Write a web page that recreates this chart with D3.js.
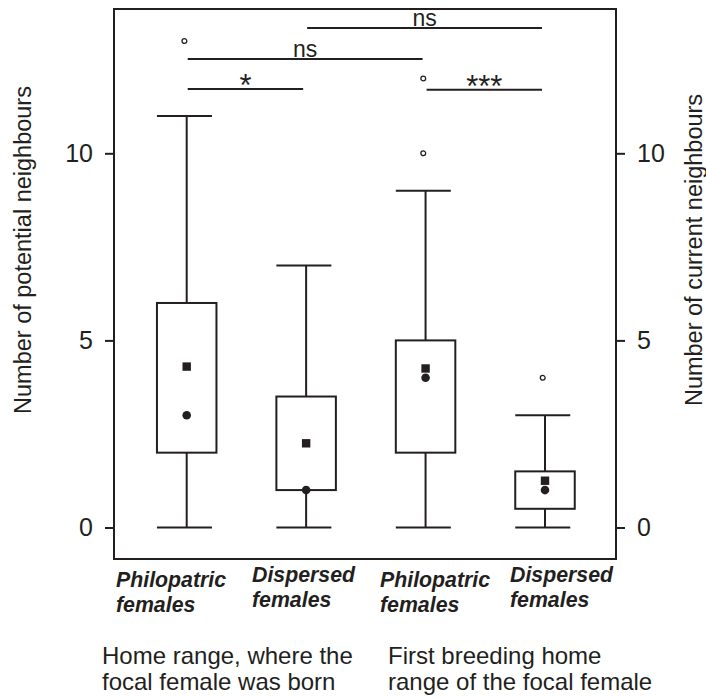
<!DOCTYPE html>
<html>

<head>
    <meta charset="utf-8">
    <script src="https://d3js.org/d3.v7.min.js"></script>
    <style>
        body { margin: 0; background: #fff; }
        text { font-family: "Liberation Sans", Arial, sans-serif; fill: #231f20; }
    </style>
</head>

<body>
    <script>
        // values
        let categories = ["Philopatric females (born)", "Dispersed females (born)",
                          "Philopatric females (breeding)", "Dispersed females (breeding)"];
        let catLine1 = ["Philopatric", "Dispersed", "Philopatric", "Dispersed"];
        let catLine2 = ["females", "females", "females", "females"];
        let whiskerLow = [0, 0, 0, 0];
        let q1 = [2, 1, 2, 0.5];
        let medians = [3, 1, 4, 1];
        let q3 = [6, 3.5, 5, 1.5];
        let whiskerHigh = [11, 7, 9, 3];
        let means = [4.3, 2.25, 4.25, 1.25];
        let outliers = [[13], [], [10, 12], [4]];
        let yTicks = [0, 5, 10];
        let sigFrom = [1, 0, 0, 2];
        let sigTo = [3, 2, 1, 3];
        let sigLevel = [13.35, 12.52, 11.72, 11.7];
        let sigLabel = ["ns", "ns", "*", "***"];
        let groupLabels = [["Home range, where the", "focal female was born"],
                           ["First breeding home", "range of the focal female"]];

        let width = 706;
        let height = 699;
        let frame = { left: 114, right: 616, top: 9, bottom: 559 };
        let ink = "#231f20";
        let boxW = 59.5;

        let svg = d3.select("body").append("svg")
            .attr("width", width)
            .attr("height", height);

        let x = d3.scalePoint().domain(categories).range([186.7, 545]);
        let y = d3.scaleLinear().domain([0, 10]).range([527.5, 153.3]);

        // frame
        svg.append("rect")
            .attr("x", frame.left).attr("y", frame.top)
            .attr("width", frame.right - frame.left)
            .attr("height", frame.bottom - frame.top)
            .attr("fill", "none").attr("stroke", ink).attr("stroke-width", 2);

        // axes
        let yLeft = svg.append("g")
            .attr("transform", `translate(${frame.left},0)`)
            .call(d3.axisLeft(y).tickValues(yTicks).tickSize(9).tickPadding(12));
        let yRight = svg.append("g")
            .attr("transform", `translate(${frame.right},0)`)
            .call(d3.axisRight(y).tickValues(yTicks).tickSize(9).tickPadding(12));
        [yLeft, yRight].forEach(function(g) {
            g.select(".domain").remove();
            g.selectAll("line").attr("stroke", ink).attr("stroke-width", 2);
            g.selectAll("text").style("font-size", "25px").attr("fill", ink)
                .style("font-family", "'Liberation Sans', Arial, sans-serif");
        });

        svg.append("text")
            .attr("transform", "translate(31,250) rotate(-90)")
            .attr("text-anchor", "middle")
            .style("font-size", "23.5px")
            .text("Number of potential neighbours");
        svg.append("text")
            .attr("transform", "translate(702,250) rotate(-90)")
            .attr("text-anchor", "middle")
            .style("font-size", "23.5px")
            .text("Number of current neighbours");

        let rows = categories.map((c, i) => ({
            cat: c, lo: whiskerLow[i], q1: q1[i], med: medians[i], q3: q3[i],
            hi: whiskerHigh[i], mean: means[i], out: outliers[i]
        }));

        let boxes = svg.selectAll("g.box")
            .data(rows)
            .join("g")
            .attr("class", "box")
            .attr("transform", d => `translate(${x(d.cat)},0)`);

        // whiskers
        boxes.append("line")
            .attr("x1", 0).attr("x2", 0)
            .attr("y1", d => y(d.q3)).attr("y2", d => y(d.hi))
            .attr("stroke", ink).attr("stroke-width", 2);
        boxes.append("line")
            .attr("x1", 0).attr("x2", 0)
            .attr("y1", d => y(d.q1)).attr("y2", d => y(d.lo))
            .attr("stroke", ink).attr("stroke-width", 2);
        // caps
        boxes.selectAll("line.cap")
            .data(d => [d.lo, d.hi])
            .join("line")
            .attr("class", "cap")
            .attr("x1", -boxW / 2).attr("x2", boxW / 2 - 4.5)
            .attr("y1", d => y(d)).attr("y2", d => y(d))
            .attr("stroke", ink).attr("stroke-width", 2);
        // box
        boxes.append("rect")
            .attr("x", -boxW / 2).attr("width", boxW)
            .attr("y", d => y(d.q3))
            .attr("height", d => y(d.q1) - y(d.q3))
            .attr("fill", "#fff").attr("stroke", ink).attr("stroke-width", 2);
        // median dot
        boxes.append("circle")
            .attr("cx", 0).attr("cy", d => y(d.med)).attr("r", 4.3)
            .attr("fill", ink);
        // mean square
        boxes.append("rect")
            .attr("x", -4.2).attr("width", 8.4)
            .attr("y", d => y(d.mean) - 4.2).attr("height", 8.4)
            .attr("fill", ink);
        // outliers
        boxes.selectAll("circle.out")
            .data(d => d.out)
            .join("circle")
            .attr("class", "out")
            .attr("cx", -2.3).attr("cy", d => y(d)).attr("r", 2.4)
            .attr("fill", "none").attr("stroke", ink).attr("stroke-width", 1.3);

        // significance bars
        let sig = sigLabel.map((l, i) => ({
            x1: x(categories[sigFrom[i]]) + 1, x2: x(categories[sigTo[i]]) - 3,
            level: sigLevel[i], label: l
        }));
        svg.selectAll("line.sig")
            .data(sig)
            .join("line")
            .attr("class", "sig")
            .attr("x1", d => d.x1).attr("x2", d => d.x2)
            .attr("y1", d => y(d.level)).attr("y2", d => y(d.level))
            .attr("stroke", ink).attr("stroke-width", 2);
        svg.selectAll("text.sig")
            .data(sig)
            .join("text")
            .attr("class", "sig")
            .attr("x", d => (d.x1 + d.x2) / 2)
            .attr("y", d => d.label == "ns" ? y(d.level) - 2 : y(d.level) + 7)
            .attr("text-anchor", "middle")
            .style("font-size", d => d.label == "ns" ? "23px" : "31px")
            .text(d => d.label);

        // category labels (left aligned blocks)
        let labelX = [116, 252, 380, 510];
        let labelY = [587, 582, 587, 582];
        categories.forEach(function(c, i) {
            let t = svg.append("text")
                .attr("x", labelX[i]).attr("y", labelY[i])
                .style("font-size", "21.3px")
                .style("font-weight", "bold")
                .style("font-style", "italic");
            t.append("tspan").attr("x", labelX[i]).text(catLine1[i]);
            t.append("tspan").attr("x", labelX[i]).attr("dy", 25).text(catLine2[i]);
        });

        // group labels
        let groupX = [102, 388];
        groupLabels.forEach(function(lines, i) {
            let t = svg.append("text")
                .attr("x", groupX[i]).attr("y", 664)
                .style("font-size", "24px");
            lines.forEach(function(l, j) {
                t.append("tspan").attr("x", groupX[i]).attr("dy", j == 0 ? 0 : 26).text(l);
            });
        });
    </script>
</body>

</html>
